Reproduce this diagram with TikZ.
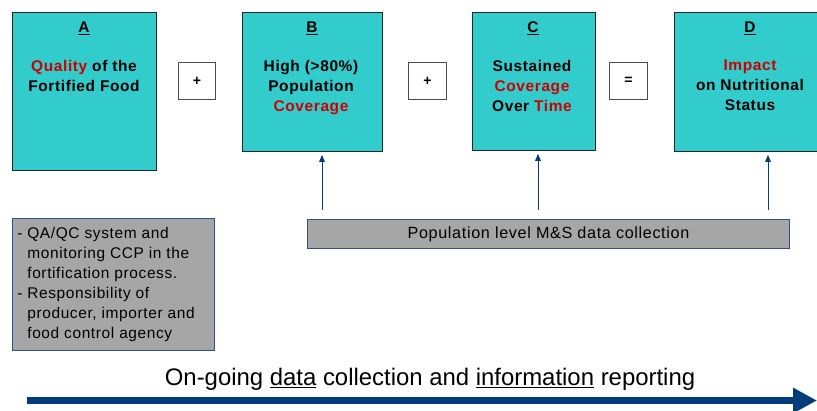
\documentclass[tikz,border=0pt]{standalone}
\usepackage{fontspec}
\setmainfont{Liberation Sans}
\newfontfamily\boxfont[LetterSpace=4]{Liberation Sans}
\usetikzlibrary{arrows.meta}

\definecolor{factorteal}{RGB}{51,204,204}
\definecolor{notegrey}{RGB}{166,166,166}
\definecolor{noteblue}{RGB}{47,82,143}
\definecolor{keyred}{RGB}{204,0,0}
\definecolor{trendnavy}{RGB}{0,61,122}

\newcommand{\hl}[1]{\textcolor{keyred}{#1}}

\tikzset{
  factor/.style={draw=black!85,fill=factorteal,line width=0.7pt,anchor=north west,inner sep=0pt},
  factortext/.style={font={\boxfont\bfseries\fontsize{11}{14.2}\selectfont},align=center,inner sep=0pt},
  opbox/.style={draw=black!70,fill=white,line width=0.6pt,anchor=north west,minimum width=0.95cm,minimum height=0.925cm,
    inner sep=0pt,font={\bfseries\fontsize{10}{12}\selectfont}},
  notebox/.style={draw=noteblue,fill=notegrey,line width=0.6pt,anchor=north west,inner sep=0pt},
  uparrow/.style={draw=trendnavy,line width=0.7pt,-{Triangle[width=4pt,length=5pt]}}
}

\begin{document}
\begin{tikzpicture}[x=0.025cm,y=-0.025cm]
    \useasboundingbox (0,0) rectangle (817,410);

    % four factor boxes
    \node[factor,minimum width=3.6cm,minimum height=3.95cm] (A) at (12,12) {};
    \node[factor,minimum width=3.5cm,minimum height=3.475cm] (B) at (242,12) {};
    \node[factor,minimum width=3.075cm,minimum height=3.45cm] (C) at (472,12) {};
    \node[factor,minimum width=3.8cm,minimum height=3.475cm] (D) at (674,12) {};

    \node[factortext,anchor=base] (Aletter) at (84,32) {\underline{A}};
    \node[factortext,anchor=base] (Bletter) at (312,32) {\underline{B}};
    \node[factortext,anchor=base] (Cletter) at (533,32) {\underline{C}};
    \node[factortext,anchor=base] (Dletter) at (750,32) {\underline{D}};

    \node[factortext,anchor=north] (Atext) at (84,60) {\hl{Quality} of the\\Fortified Food};
    \node[factortext,anchor=north] (Btext) at (311,60) {High (>80\%)\\Population\\\hl{Coverage}};
    \node[factortext,anchor=north] (Ctext) at (532,60) {Sustained\\\hl{Coverage}\\Over \hl{Time}};
    \node[factortext,anchor=north] (Dtext) at (750,60) {\hl{Impact}\\on Nutritional\\Status};

    % operators
    \node[opbox,minimum width=0.925cm] (plusAB) at (178,62) {+};
    \node[opbox] (plusBC) at (408,62) {+};
    \node[opbox] (equals) at (609,62) {=};

    % grey notes
    \node[notebox,minimum width=5.05cm,minimum height=3.3cm] (qaqc) at (12,218) {};
    \node[anchor=north west,inner sep=0pt,align=left,font={\boxfont\fontsize{11}{14.2}\selectfont}] (qaqctext) at (17,227)
      {- QA/QC system and\\
       \hphantom{- }monitoring CCP in the\\
       \hphantom{- }fortification process.\\
       - Responsibility of\\
       \hphantom{- }producer, importer and\\
       \hphantom{- }food control agency};

    \node[notebox,minimum width=12.05cm,minimum height=0.725cm,font={\boxfont\fontsize{11.5}{14}\selectfont},inner sep=0pt]
      (popMS) at (307,219) {Population level M\&S data collection};

    % arrows up to B, C, D
    \coordinate (pB) at (322,210);
    \coordinate (pC) at (538,210);
    \coordinate (pD) at (768,210);
    \draw[uparrow] (pB) -- ([yshift=-2pt]pB |- B.south);
    \draw[uparrow] (pC) -- ([yshift=-2pt]pC |- C.south);
    \draw[uparrow] (pD) -- ([yshift=-2pt]pD |- D.south);

    % bottom trend arrow
    \node[anchor=base,inner sep=0pt,font={\fontsize{17}{20}\selectfont}] (trend) at (430,385)
      {On-going \underline{data} collection and \underline{information} reporting};
    \coordinate (tstart) at (27,400.5);
    \coordinate (tend) at (817,400.5);
    \draw[trendnavy,line width=5pt,-{Triangle[width=0.6cm,length=0.6cm]}] (tstart) -- (tend);
\end{tikzpicture}
\end{document}
